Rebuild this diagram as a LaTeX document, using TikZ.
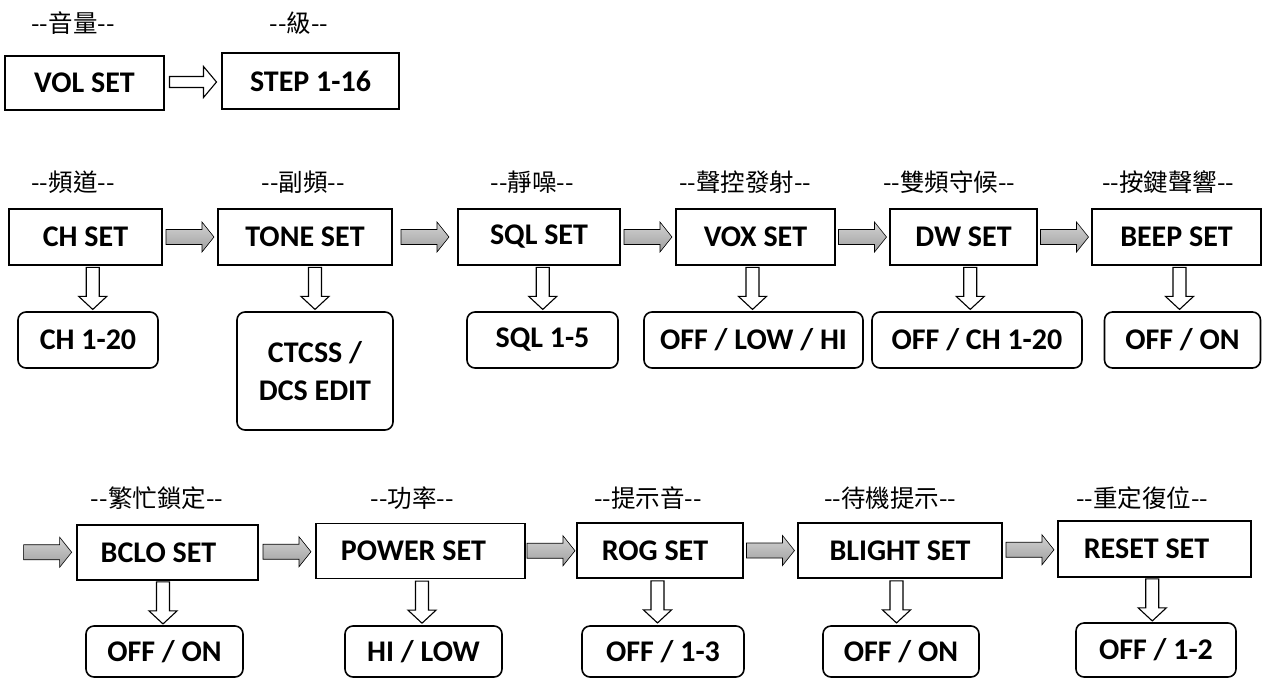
\documentclass[tikz,border=0pt]{standalone}
\usepackage{fontspec}
\usetikzlibrary{calc}
\newfontfamily\boxfont{Carlito}
\newfontfamily\cjk{Noto Sans CJK TC}

\tikzset{
  setbox/.style={draw, line width=1.3pt, inner sep=0pt, minimum height=56pt,
    font=\boxfont\bfseries\fontsize{30}{32}\selectfont},
  valbox/.style={setbox, rounded corners=8pt, line width=1.6pt},
  menu/.style={font=\cjk\fontsize{24.5}{26}\selectfont, inner sep=0pt},
  grayfill/.style={draw, line width=0.6pt, top color=gray!35, middle color=gray!5, bottom color=gray!75},
  openfill/.style={draw, line width=1.1pt, fill=white, line join=miter},
  pics/grayarr/.style={code={
    \path[grayfill] (-24,-7.5) -- (12,-7.5) -- (12,-15) -- (24,0) -- (12,15) -- (12,7.5) -- (-24,7.5) -- cycle;}},
  pics/openarr/.style={code={
    \path[openfill] (-23.5,-5.5) -- (10.5,-5.5) -- (10.5,-15.5) -- (23.5,0) -- (10.5,15.5) -- (10.5,5.5) -- (-23.5,5.5) -- cycle;}},
  pics/downarr/.style={code={
    \path[openfill] (-6.5,-21) -- (6.5,-21) -- (6.5,8) -- (14,8) -- (0,21) -- (-14,8) -- (-6.5,8) -- cycle;}}
}

\begin{document}
\begin{tikzpicture}[x=1pt, y=-1pt]
  \useasboundingbox (0,0) rectangle (1263,678);

  % volume
  \node[menu] (lvol) at (73,23) {--音量--};
  \node[menu] (lstep) at (299,23) {--級--};
  \node[setbox, minimum width=159pt, minimum height=54pt] (vol) at (84.5,83) {VOL SET};
  \node[setbox, minimum width=177pt] (step) at (310.5,81) {STEP 1-16};
  \pic at ($(vol.east)!.5!(step.west)$) {openarr};

  % first row of settings
  \node[menu] (lch) at (73,182) {--頻道--};
  \node[menu] (ltone) at (303,182) {--副頻--};
  \node[menu] (lsql) at (532,182) {--靜噪--};
  \node[menu] (lvox) at (745,182) {--聲控發射--};
  \node[menu] (ldw) at (949,182) {--雙頻守候--};
  \node[menu] (lbeep) at (1168,182) {--按鍵聲響--};

  \node[setbox, minimum width=153pt] (ch) at (85.5,237) {CH SET};
  \node[setbox, minimum width=174pt] (tone) at (305,237) {TONE SET};
  \node[setbox, minimum width=162pt] (sql) at (539,237) {SQL SET};
  \node[setbox, minimum width=159pt] (vox) at (755.5,237) {VOX SET};
  \node[setbox, minimum width=147pt] (dw) at (963.5,237) {DW SET};
  \node[setbox, minimum width=169pt] (beep) at (1176.5,237) {BEEP SET};

  \node[valbox, minimum width=140pt] (ch1) at (88,340) {CH 1-20};
  \node[valbox, minimum width=156pt, minimum height=118pt, align=center] (ctcss) at (315,371)
    {CTCSS /\\[6pt]DCS EDIT};
  \node[valbox, minimum width=151pt] (sql1) at (542.5,340) {SQL 1-5};
  \node[valbox, minimum width=219pt] (voxval) at (753.5,340) {OFF / LOW / HI};
  \node[valbox, minimum width=210pt] (dwval) at (977,340) {OFF / CH 1-20};
  \node[valbox, minimum width=156pt] (beepval) at (1182.5,340) {OFF / ON};

  \pic at ($(ch.east)!.5!(tone.west)$) {grayarr};
  \pic at ($(tone.east)!.5!(sql.west)$) {grayarr};
  \pic at ($(sql.east)!.5!(vox.west)$) {grayarr};
  \pic at ($(vox.east)!.5!(dw.west)$) {grayarr};
  \pic at ($(dw.east)!.5!(beep.west)$) {grayarr};

  \pic[xshift=6pt] at ($(ch.south)!.5!(ch1.north)$) {downarr};
  \pic[xshift=5pt] at ($(tone.south)!.5!(ctcss.north)$) {downarr};
  \pic[xshift=2pt] at ($(sql.south)!.5!(sql1.north)$) {downarr};
  \pic[xshift=-2pt] at ($(vox.south)!.5!(voxval.north)$) {downarr};
  \pic at ($(dw.south)!.5!(dwval.north)$) {downarr};
  \pic at ($(beep.south)!.5!(beepval.north)$) {downarr};

  % second row of settings
  \node[menu] (lbclo) at (157,498) {--繁忙鎖定--};
  \node[menu] (lpower) at (412,498) {--功率--};
  \node[menu] (lrog) at (648,498) {--提示音--};
  \node[menu] (lblight) at (890,498) {--待機提示--};
  \node[menu] (lreset) at (1142,498) {--重定復位--};

  \coordinate (start) at (19,552);
  \node[setbox, minimum width=181pt, minimum height=55pt] (bclo) at (167.5,552.5) {BCLO SET\kern18pt};
  \node[setbox, minimum width=209pt, minimum height=55pt] (power) at (420.5,551) {POWER SET\kern14pt};
  \node[setbox, minimum width=166pt, minimum height=55pt] (rog) at (660,550.5) {ROG SET\kern10pt};
  \node[setbox, minimum width=204pt, minimum height=55pt] (blight) at (900,550.5) {BLIGHT SET};
  \node[setbox, minimum width=193pt, minimum height=56pt] (reset) at (1154.5,549) {RESET SET\kern16pt};

  \node[valbox, minimum width=157pt, minimum height=51pt] (bcloval) at (164.5,651.5) {OFF / ON};
  \node[valbox, minimum width=157pt, minimum height=51pt] (powerval) at (423.5,651.5) {HI / LOW};
  \node[valbox, minimum width=162pt, minimum height=51pt] (rogval) at (663,651.5) {OFF / 1-3};
  \node[valbox, minimum width=156pt, minimum height=51pt] (blightval) at (901,651.5) {OFF / ON};
  \node[valbox, minimum width=160pt, minimum height=54pt] (resetval) at (1156,650) {OFF / 1-2};

  \pic at ($(start)!.5!(bclo.west)$) {grayarr};
  \pic at ($(bclo.east)!.5!(power.west)$) {grayarr};
  \pic at ($(power.east)!.5!(rog.west)$) {grayarr};
  \pic at ($(rog.east)!.5!(blight.west)$) {grayarr};
  \pic at ($(blight.east)!.5!(reset.west)$) {grayarr};

  \pic[xshift=-3pt] at ($(bclo.south)!.5!(bcloval.north)$) {downarr};
  \pic at ($(power.south)!.5!(powerval.north)$) {downarr};
  \pic[xshift=-4pt] at ($(rog.south)!.5!(rogval.north)$) {downarr};
  \pic[xshift=-4pt] at ($(blight.south)!.5!(blightval.north)$) {downarr};
  \pic[xshift=-3pt] at ($(reset.south)!.5!(resetval.north)$) {downarr};
\end{tikzpicture}
\end{document}
